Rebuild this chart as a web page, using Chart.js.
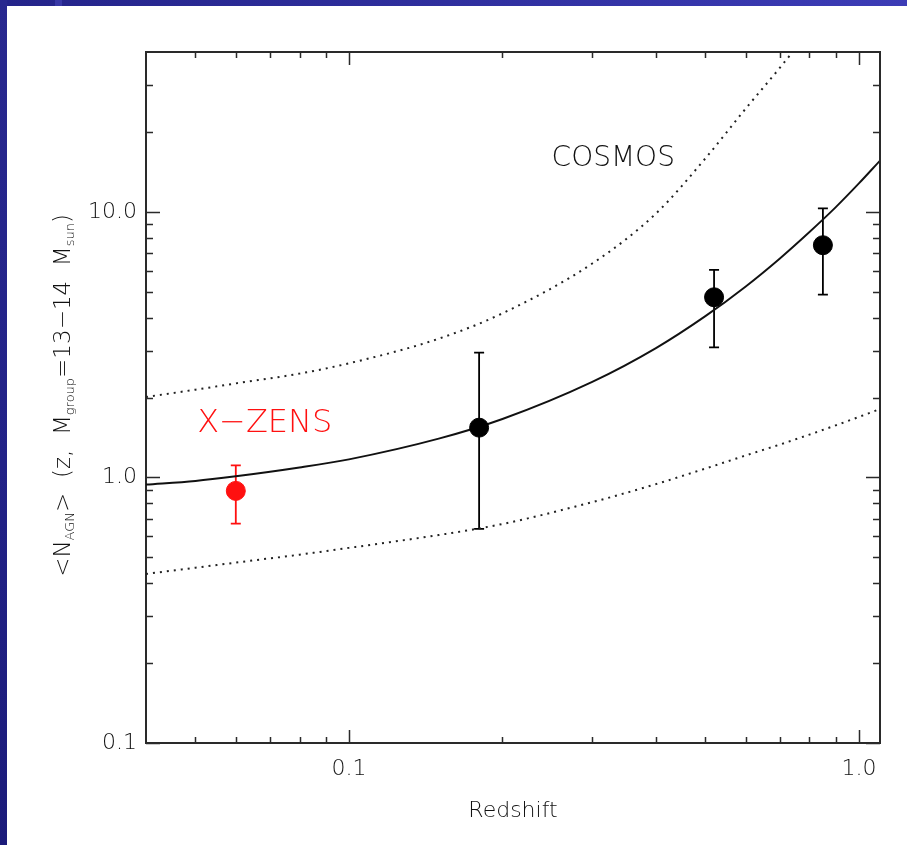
<!DOCTYPE html>
<html>
<head>
<meta charset="utf-8">
<script src="https://cdn.jsdelivr.net/npm/chart.js@4.4.1/dist/chart.umd.min.js"></script>
<style>
  html, body { margin: 0; padding: 0; background: #fff; }
  #wrap { position: relative; width: 907px; height: 845px; overflow: hidden; background: #fff; }
  #band-top { position: absolute; left: 0; top: 0; width: 907px; height: 6px;
              background: linear-gradient(90deg, #24248a 0%, #2e2e9c 45%, #3c3cb6 100%); }
  #band-left { position: absolute; left: 0; top: 0; width: 7px; height: 845px;
               background: linear-gradient(180deg, #28288f 0%, #222287 55%, #1b1b7a 100%); }
  #chip { position: absolute; left: 55px; top: 0; width: 7px; height: 6px; background: #3838a6; }
  canvas { position: absolute; left: 0; top: 0; }
</style>
</head>
<body>
<div id="wrap">
  <div id="band-top"></div>
  <div id="band-left"></div>
  <div id="chip"></div>
  <canvas id="c" width="907" height="845"></canvas>
</div>
<script>
// Model curves: mean occupation and its lower / upper envelopes
const redshiftGrid = [0.04, 0.05, 0.06, 0.08, 0.1, 0.15, 0.2, 0.3, 0.4, 0.5, 0.6, 0.7, 0.8, 0.9, 1.0, 1.1];
const fitMean      = [0.94, 0.97, 1.01, 1.09, 1.17, 1.40, 1.66, 2.29, 3.07, 4.05, 5.24, 6.68, 8.40, 10.4, 12.8, 15.6];
const fitLower     = [0.433, 0.457, 0.478, 0.512, 0.543, 0.607, 0.668, 0.807, 0.944, 1.08, 1.21, 1.33, 1.45, 1.57, 1.69, 1.81];
const upperGrid    = [0.04, 0.05, 0.06, 0.08, 0.1, 0.15, 0.2, 0.3, 0.4, 0.5, 0.6, 0.7, 0.8];
const fitUpper     = [2.01, 2.14, 2.26, 2.46, 2.69, 3.33, 4.15, 6.39, 9.86, 15.9, 24.5, 34.9, 48];

// Measurements with asymmetric errors
const xzensZ  = [0.060];
const xzensN  = [0.89];
const xzensLo = [0.67];
const xzensHi = [1.11];

const cosmosZ  = [0.18, 0.52, 0.85];
const cosmosN  = [1.54, 4.77, 7.49];
const cosmosLo = [0.64, 3.09, 4.88];
const cosmosHi = [2.95, 6.05, 10.3];

// Axis ranges and ticks
const zRange = [0.04, 1.1];
const nRange = [0.1, 40];
const zTicks = [0.1, 1.0];
const zTickLabels = ['0.1', '1.0'];
const zMinor = [0.05, 0.06, 0.07, 0.08, 0.09, 0.2, 0.3, 0.4, 0.5, 0.6, 0.7, 0.8, 0.9];
const nTicks = [0.1, 1, 10];
const nTickLabels = ['0.1', '1.0', '10.0'];
const nMinor = [0.2, 0.3, 0.4, 0.5, 0.6, 0.7, 0.8, 0.9, 2, 3, 4, 5, 6, 7, 8, 9, 20, 30];

const xTitle = 'Redshift';
// y title pieces: [text, isSubscript]
const yTitleParts = [['<N', false], ['AGN', true], ['>  (z,  M', false], ['group', true],
                     ['=13\u221214  M', false], ['sun', true], [')', false]];
const labelXZENS = 'X\u2212ZENS';
const labelCOSMOS = 'COSMOS';

const FONT = '"DejaVu Sans", "Liberation Sans", sans-serif';
const INK = '#2a2a2a';
const TEXT = '#111';
const RED = '#ff1010';

const pts = (xs, ys) => xs.map((x, i) => ({ x: x, y: ys[i] }));

// error bars with small caps, drawn under the markers
const errorBarPlugin = {
  id: 'errorBars',
  beforeDatasetsDraw(chart) {
    const { ctx, scales: { x, y } } = chart;
    const groups = [
      { z: xzensZ, lo: xzensLo, hi: xzensHi, color: RED },
      { z: cosmosZ, lo: cosmosLo, hi: cosmosHi, color: '#000' }
    ];
    ctx.save();
    ctx.lineWidth = 1.8;
    groups.forEach(g => {
      ctx.strokeStyle = g.color;
      g.z.forEach((z, i) => {
        const px = x.getPixelForValue(z);
        const y1 = y.getPixelForValue(g.lo[i]);
        const y2 = y.getPixelForValue(g.hi[i]);
        ctx.beginPath();
        ctx.moveTo(px, y1); ctx.lineTo(px, y2);
        ctx.moveTo(px - 5, y1); ctx.lineTo(px + 5, y1);
        ctx.moveTo(px - 5, y2); ctx.lineTo(px + 5, y2);
        ctx.stroke();
      });
    });
    ctx.restore();
  }
};

// closed frame with inward tick marks on all four sides
const frameTicksPlugin = {
  id: 'frameTicks',
  afterDraw(chart) {
    const { ctx, chartArea: a, scales: { x, y } } = chart;
    ctx.save();
    ctx.strokeStyle = INK;
    ctx.lineWidth = 2;
    ctx.beginPath();
    ctx.moveTo(a.left, a.top); ctx.lineTo(a.right, a.top); ctx.lineTo(a.right, a.bottom);
    ctx.stroke();
    ctx.lineWidth = 1.5;
    ctx.beginPath();
    const xTick = (v, len) => {
      const px = Math.round(x.getPixelForValue(v)) + 0.5;
      ctx.moveTo(px, a.bottom); ctx.lineTo(px, a.bottom - len);
      ctx.moveTo(px, a.top); ctx.lineTo(px, a.top + len);
    };
    const yTick = (v, len) => {
      const py = Math.round(y.getPixelForValue(v)) + 0.5;
      ctx.moveTo(a.left, py); ctx.lineTo(a.left + len, py);
      ctx.moveTo(a.right, py); ctx.lineTo(a.right - len, py);
    };
    zTicks.forEach(v => xTick(v, 13));
    zMinor.forEach(v => xTick(v, 6));
    nTicks.forEach(v => yTick(v, 14));
    nMinor.forEach(v => yTick(v, 7));
    ctx.stroke();
    ctx.restore();
  }
};

// text labels inside the plot and the rotated y title with subscripts
const textPlugin = {
  id: 'texts',
  afterDraw(chart) {
    const { ctx, chartArea: a, scales: { x, y } } = chart;
    ctx.save();
    ctx.textBaseline = 'alphabetic';
    ctx.textAlign = 'left';
    ctx.font = '200 32px ' + FONT;
    ctx.fillStyle = RED;
    ctx.fillText(labelXZENS, x.getPixelForValue(0.0504), y.getPixelForValue(1.48));
    ctx.font = '200 28px ' + FONT;
    ctx.fillStyle = TEXT;
    ctx.fillText(labelCOSMOS, x.getPixelForValue(0.2497), y.getPixelForValue(14.9));

    const mainFont = '200 23px ' + FONT;
    const subFont = '200 13px ' + FONT;
    let total = 0;
    yTitleParts.forEach(([t, sub]) => {
      ctx.font = sub ? subFont : mainFont;
      total += ctx.measureText(t).width;
    });
    ctx.translate(70, (a.top + a.bottom) / 2 - 2);
    ctx.rotate(-Math.PI / 2);
    let cx = -total / 2;
    yTitleParts.forEach(([t, sub]) => {
      ctx.font = sub ? subFont : mainFont;
      ctx.fillText(t, cx, sub ? 4 : 0);
      cx += ctx.measureText(t).width;
    });
    ctx.restore();
  }
};

new Chart(document.getElementById('c'), {
  type: 'line',
  data: {
    datasets: [
      {
        label: 'X-ZENS', data: pts(xzensZ, xzensN), showLine: false,
        pointRadius: 9.5, pointBorderWidth: 1, pointBackgroundColor: RED, pointBorderColor: RED, order: 0
      },
      {
        label: 'COSMOS', data: pts(cosmosZ, cosmosN), showLine: false,
        pointRadius: 9.5, pointBorderWidth: 1, pointBackgroundColor: '#000', pointBorderColor: '#000', order: 0
      },
      {
        label: 'fit', data: pts(redshiftGrid, fitMean), borderColor: '#111', borderWidth: 1.9,
        pointRadius: 0, cubicInterpolationMode: 'monotone', fill: false, order: 1
      },
      {
        label: 'lower', data: pts(redshiftGrid, fitLower), borderColor: '#222', borderWidth: 2,
        borderDash: [2, 5], pointRadius: 0, cubicInterpolationMode: 'monotone', fill: false, order: 2
      },
      {
        label: 'upper', data: pts(upperGrid, fitUpper), borderColor: '#222', borderWidth: 2,
        borderDash: [2, 5], pointRadius: 0, cubicInterpolationMode: 'monotone', fill: false, order: 2
      }
    ]
  },
  options: {
    responsive: false,
    animation: false,
    devicePixelRatio: 1,
    layout: { autoPadding: false, padding: { left: 0, top: 52, right: 27, bottom: 0 } },
    plugins: { legend: { display: false }, tooltip: { enabled: false } },
    scales: {
      x: {
        type: 'logarithmic', position: 'bottom', min: zRange[0], max: zRange[1],
        afterBuildTicks: s => { s.ticks = zTicks.map(v => ({ value: v })); },
        afterFit: s => { s.height = 102; },
        ticks: {
          autoSkip: false, maxRotation: 0, padding: 13, color: TEXT,
          font: { family: FONT, size: 22, weight: 200 },
          callback: v => { const i = zTicks.indexOf(v); return i >= 0 ? zTickLabels[i] : ''; }
        },
        grid: { display: true, drawOnChartArea: false, drawTicks: false },
        border: { display: true, color: INK, width: 2 },
        title: { display: true, text: xTitle, color: TEXT, font: { family: FONT, size: 22, weight: 200 },
                 padding: { top: 0, bottom: 21 } }
      },
      y: {
        type: 'logarithmic', position: 'left', min: nRange[0], max: nRange[1],
        afterBuildTicks: s => { s.ticks = nTicks.map(v => ({ value: v })); },
        afterFit: s => { s.width = 146; },
        ticks: {
          autoSkip: false, padding: 9, color: TEXT,
          font: { family: FONT, size: 22, weight: 200 },
          callback: v => { const i = nTicks.indexOf(v); return i >= 0 ? nTickLabels[i] : ''; }
        },
        grid: { display: true, drawOnChartArea: false, drawTicks: false },
        border: { display: true, color: INK, width: 2 }
      }
    }
  },
  plugins: [errorBarPlugin, frameTicksPlugin, textPlugin]
});
</script>
</body>
</html>
